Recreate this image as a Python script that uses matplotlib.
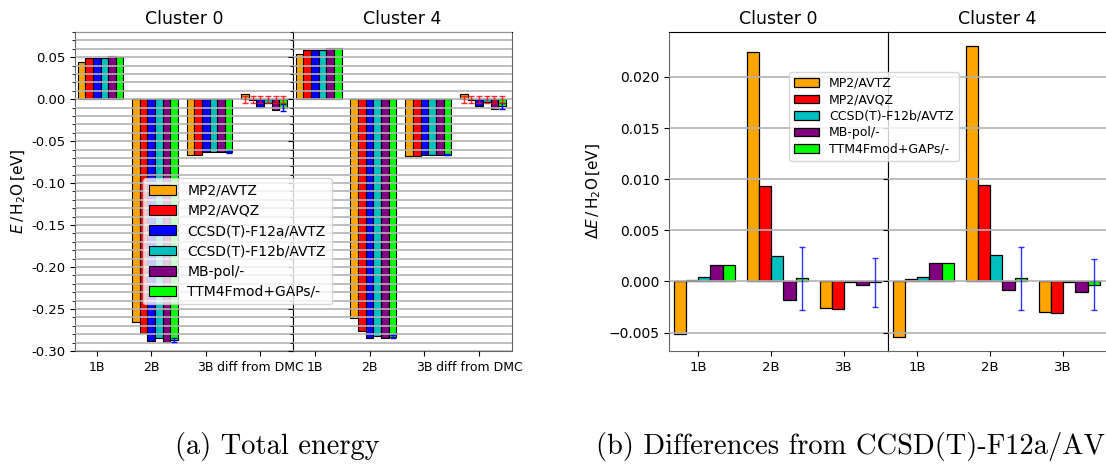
import numpy as np
import matplotlib
matplotlib.use('Agg')
import matplotlib.pyplot as plt
from matplotlib.ticker import MultipleLocator, FuncFormatter

methods = ['MP2/AVTZ', 'MP2/AVQZ', 'CCSD(T)-F12a/AVTZ', 'CCSD(T)-F12b/AVTZ', 'MB-pol/-', 'TTM4Fmod+GAPs/-']
colors = ['orange', 'red', 'blue', 'c', 'purple', 'lime']
terms = ['1B', '2B', '3B', 'diff from DMC']
clusters = ['Cluster 0', 'Cluster 4']

# energies per water [eV], one row per method, columns follow `terms`
e_cluster0 = [[0.044, -0.265, -0.066,  0.006],
              [0.049, -0.279, -0.066, -0.001],
              [0.049, -0.288, -0.063, -0.009],
              [0.049, -0.285, -0.063, -0.005],
              [0.051, -0.289, -0.063, -0.013],
              [0.050, -0.287, -0.063, -0.010]]
e_cluster4 = [[0.054, -0.261, -0.068,  0.006],
              [0.059, -0.276, -0.068, -0.0005],
              [0.059, -0.284, -0.066, -0.008],
              [0.059, -0.282, -0.066, -0.003],
              [0.061, -0.285, -0.066, -0.012],
              [0.061, -0.283, -0.066, -0.008]]
# uncertainty of the GAP model and of the DMC reference
gap_err = [0.0, 0.002, 0.001, 0.004]
dmc_err = 0.004

# differences from CCSD(T)-F12a/AVTZ (F12a itself left out)
diff_methods = ['MP2/AVTZ', 'MP2/AVQZ', 'CCSD(T)-F12b/AVTZ', 'MB-pol/-', 'TTM4Fmod+GAPs/-']
diff_colors = ['orange', 'red', 'c', 'purple', 'lime']
diff_terms = ['1B', '2B', '3B']
d_cluster0 = [[-0.0051,  0.0224, -0.0026],
              [ 0.0001,  0.0093, -0.0027],
              [ 0.0004,  0.0025, -0.0001],
              [ 0.0016, -0.0018, -0.0003],
              [ 0.0016,  0.0003, -0.0001]]
d_cluster4 = [[-0.0054,  0.0230, -0.0030],
              [ 0.0002,  0.0094, -0.0031],
              [ 0.0004,  0.0026, -0.0001],
              [ 0.0018, -0.0008, -0.0010],
              [ 0.0018,  0.0003, -0.0003]]
d_gap_err = [0.0, 0.0031, 0.0024]
d_gap_err4 = [0.0, 0.0031, 0.0025]


def style_spines(ax, left_black=False, right_black=False):
    for s in ['left', 'right', 'bottom']:
        ax.spines[s].set_color('0.4')
    ax.spines['top'].set_color('k')
    if left_black:
        ax.spines['left'].set_color('k')
    if right_black:
        ax.spines['right'].set_color('k')


def draw_total(ax, energies, title):
    x = np.arange(len(terms))
    w = 0.14
    for k in range(len(methods)):
        ax.bar(x + (k - 2) * w, energies[k], w, color=colors[k],
               edgecolor='k', linewidth=0.8, label=methods[k])
    # GAP error bars
    err = np.array(gap_err)
    m = err > 0
    xg = x + 3 * w
    ax.errorbar(xg[m], np.array(energies[5])[m], yerr=err[m], fmt='none',
                ecolor='blue', elinewidth=1, capsize=2, zorder=4)
    # DMC error bars around zero
    xd = x[3] + (np.arange(len(methods)) - 2) * w
    ax.errorbar(xd, np.zeros(len(xd)), yerr=dmc_err, fmt='none', ecolor='red',
                elinewidth=1, capsize=2, alpha=0.8, zorder=4)
    ax.set_xticks(x)
    ax.set_xticklabels(terms, fontsize=9)
    ax.set_xlim(-0.4, 3.6)
    ax.set_ylim(-0.30, 0.08)
    ax.yaxis.set_major_locator(MultipleLocator(0.05))
    ax.yaxis.set_minor_locator(MultipleLocator(0.01))
    ax.yaxis.set_major_formatter(FuncFormatter(lambda v, p: '%.2f' % (round(v, 4) + 0.0)))
    ax.tick_params(axis='y', labelsize=9.5)
    ax.grid(True, which='both', axis='y', color='0.7', linewidth=1.2)
    ax.set_axisbelow(False)
    ax.set_title(title, fontsize=12.5)


def draw_diff(ax, diffs, errs, title):
    x = np.arange(len(diff_terms))
    w = 1 / 6
    for k in range(len(diff_methods)):
        ax.bar(x + (k - 1.5) * w, diffs[k], w, color=diff_colors[k],
               edgecolor='k', linewidth=0.9, label=diff_methods[k])
    err = np.array(errs)
    m = err > 0
    ax.errorbar((x + 2.5 * w)[m], np.array(diffs[4])[m], yerr=err[m], fmt='none',
                ecolor='blue', elinewidth=1, capsize=2, alpha=0.8, zorder=4)
    ax.set_xticks(x)
    ax.set_xticklabels(diff_terms, fontsize=9.5)
    ax.set_xlim(-0.4, 2.6)
    ax.set_ylim(-0.0068, 0.0244)
    ax.yaxis.set_major_locator(MultipleLocator(0.005))
    ax.tick_params(axis='y', labelsize=10)
    ax.grid(True, axis='y', color='0.7', linewidth=1.2)
    ax.set_axisbelow(False)
    ax.set_title(title, fontsize=12.5)


fig = plt.figure(figsize=(11.06, 4.65), dpi=100)

# (a) total energies
axa0 = fig.add_axes([0.0678, 0.2452, 0.1971, 0.686])
axa4 = fig.add_axes([0.2649, 0.2452, 0.198, 0.686], sharey=axa0)
draw_total(axa0, e_cluster0, clusters[0])
draw_total(axa4, e_cluster4, clusters[1])
axa4.tick_params(labelleft=False)
style_spines(axa0, right_black=True)
style_spines(axa4, left_black=True)
axa0.set_ylabel(r'$E\,/\,\mathrm{H_2O}\,[\mathrm{eV}]$', fontsize=11, labelpad=2)
h, l = axa0.get_legend_handles_labels()
fig.legend(h, l, loc='upper left', bbox_to_anchor=(0.1293, 0.6172), borderaxespad=0,
           fontsize=10, labelspacing=0.45, framealpha=0.8)

# (b) differences from CCSD(T)-F12a/AVTZ
axb0 = fig.add_axes([0.6049, 0.2452, 0.198, 0.686])
axb4 = fig.add_axes([0.8029, 0.2452, 0.198, 0.686], sharey=axb0)
draw_diff(axb0, d_cluster0, d_gap_err, clusters[0])
draw_diff(axb4, d_cluster4, d_gap_err4, clusters[1])
axb4.tick_params(labelleft=False)
style_spines(axb0, right_black=True)
style_spines(axb4, left_black=True)
axb0.set_ylabel(r'$\Delta E\,/\,\mathrm{H_2O}\,[\mathrm{eV}]$', fontsize=11, labelpad=4)
h, l = axb0.get_legend_handles_labels()
fig.legend(h, l, loc='upper left', bbox_to_anchor=(0.7134, 0.8452), borderaxespad=0,
           fontsize=9, labelspacing=0.28, framealpha=0.8)

fig.text(0.2505, 0.039, '(a) Total energy', family='cmr10', fontsize=20.5,
         ha='center', va='center')
fig.text(0.539, 0.039, '(b) Differences from CCSD(T)-F12a/AVTZ', family='cmr10',
         fontsize=20.5, ha='left', va='center')

fig.savefig('out.png', dpi=100)
